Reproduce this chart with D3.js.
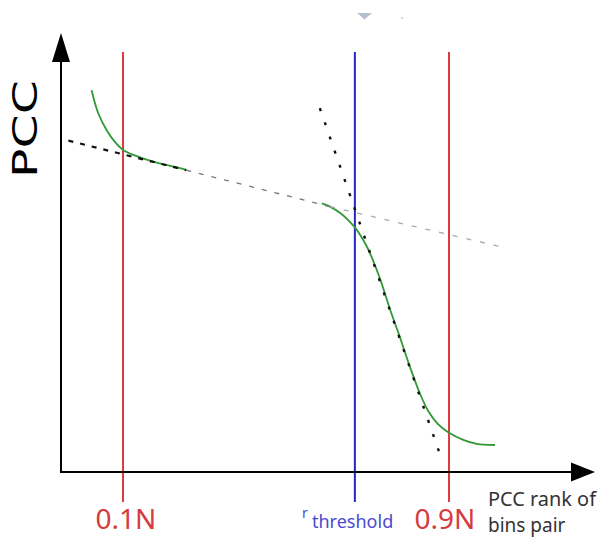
<!DOCTYPE html>
<html>
<head>
<meta charset="utf-8">
<script src="https://cdn.jsdelivr.net/npm/d3@7"></script>
<style>
  html, body { margin: 0; padding: 0; background: #fff; }
  svg { display: block; }
</style>
</head>
<body>
<svg id="chart" width="602" height="539"></svg>
<script>
// Rank position as a fraction of N, PCC as a relative value (0..1)
const markerRanks = [0.1, 0.9];          // 0.1N and 0.9N cut-offs
const markerLabels = ["0.1N", "0.9N"];
const thresholdRank = 0.669;             // r_threshold position

// Sorted PCC curve, drawn in two visible stretches
const curveHead = [
  [0.023, 0.952], [0.039, 0.895], [0.060, 0.852], [0.080, 0.823],
  [0.101, 0.802], [0.142, 0.784], [0.183, 0.771], [0.240, 0.757],
  [0.255, 0.753]
];
const curveTail = [
  [0.588, 0.669], [0.608, 0.661], [0.633, 0.645], [0.652, 0.628],
  [0.669, 0.609], [0.684, 0.587], [0.699, 0.560], [0.713, 0.528],
  [0.731, 0.480], [0.755, 0.405], [0.780, 0.333], [0.804, 0.261],
  [0.829, 0.193], [0.849, 0.150], [0.873, 0.117], [0.898, 0.097],
  [0.935, 0.078], [0.968, 0.068], [1.013, 0.065]
];

// Linear fit through the slowly decaying middle part (three shading stretches)
const flatFitNear = [[-0.034, 0.826], [0.255, 0.752]];
const flatFitMid  = [[0.255, 0.752], [0.608, 0.661]];
const flatFitFar  = [[0.608, 0.661], [1.042, 0.557]];
// Linear fit through the steep drop
const steepFit = [[0.583, 0.907], [0.876, 0.047]];

const svg = d3.select("#chart");

const x = d3.scaleLinear().domain([0, 1]).range([82.25, 489.75]);
const y = d3.scaleLinear().domain([0, 1]).range([471, 71]);

const origin = { x: 61, y: 472 };
const line = d3.line().x(d => x(d[0])).y(d => y(d[1]));
const smooth = d3.line().x(d => x(d[0])).y(d => y(d[1])).curve(d3.curveCatmullRom.alpha(0.5));

// Small marks at the top edge
svg.append("path")
  .attr("d", "M357,13 L372,13 L364.5,19.5 Z")
  .attr("fill", "#b4bfca");
svg.append("circle").attr("cx", 402).attr("cy", 18).attr("r", 0.8).attr("fill", "#999");

// Vertical reference lines
const lineTop = 52, lineBottom = 502;
markerRanks.forEach(r => {
  svg.append("line")
    .attr("x1", x(r)).attr("x2", x(r))
    .attr("y1", lineTop).attr("y2", lineBottom)
    .attr("stroke", "#dc3b3f").attr("stroke-width", 2);
});
svg.append("line")
  .attr("x1", x(thresholdRank)).attr("x2", x(thresholdRank))
  .attr("y1", lineTop).attr("y2", lineBottom)
  .attr("stroke", "#2626c4").attr("stroke-width", 2);

// Sorted PCC curve
[curveHead, curveTail].forEach(seg => {
  svg.append("path")
    .attr("d", smooth(seg))
    .attr("fill", "none")
    .attr("stroke", "#2f9a34")
    .attr("stroke-width", 1.8);
});

// Fit lines
svg.append("path").attr("d", line(flatFitNear))
  .attr("fill", "none").attr("stroke", "#111").attr("stroke-width", 2.2)
  .attr("stroke-dasharray", "5,7");
svg.append("path").attr("d", line(flatFitMid))
  .attr("fill", "none").attr("stroke", "#777").attr("stroke-width", 1.3)
  .attr("stroke-dasharray", "5,8");
svg.append("path").attr("d", line(flatFitFar))
  .attr("fill", "none").attr("stroke", "#aaa").attr("stroke-width", 1.3)
  .attr("stroke-dasharray", "5,9");
svg.append("path").attr("d", line(steepFit))
  .attr("fill", "none").attr("stroke", "#111").attr("stroke-width", 2.4)
  .attr("stroke-dasharray", "3,12");

// Axes with arrow heads
svg.append("line")
  .attr("x1", origin.x).attr("y1", origin.y).attr("x2", origin.x).attr("y2", 45)
  .attr("stroke", "#000").attr("stroke-width", 2);
svg.append("path")
  .attr("d", `M${origin.x},33 L${origin.x - 9},62 L${origin.x + 9},62 Z`)
  .attr("fill", "#000");
svg.append("line")
  .attr("x1", origin.x - 1).attr("y1", origin.y).attr("x2", 585).attr("y2", origin.y)
  .attr("stroke", "#000").attr("stroke-width", 2);
svg.append("path")
  .attr("d", `M595,${origin.y} L571,${origin.y - 9.5} L571,${origin.y + 9.5} Z`)
  .attr("fill", "#000");

// Axis titles
svg.append("text")
  .attr("transform", "translate(37,129) rotate(-90)")
  .attr("text-anchor", "middle")
  .attr("font-family", "'DejaVu Sans', sans-serif")
  .attr("font-size", 33)
  .attr("textLength", 98)
  .attr("lengthAdjust", "spacingAndGlyphs")
  .attr("fill", "#000")
  .text("PCC");

const xTitleFont = { family: "'Noto Sans', sans-serif", size: 19, color: "#333" };
[["PCC rank of", 506, 108], ["bins pair", 532, null]].forEach(([t, yy, len]) => {
  const el = svg.append("text")
    .attr("x", 488).attr("y", yy)
    .attr("font-family", xTitleFont.family)
    .attr("font-size", xTitleFont.size)
    .attr("fill", xTitleFont.color)
    .text(t);
  if (len) el.attr("textLength", len).attr("lengthAdjust", "spacingAndGlyphs");
});

// Marker labels
markerRanks.forEach((r, i) => {
  svg.append("text")
    .attr("x", x(r) + (i === 0 ? 3 : -4)).attr("y", 529)
    .attr("text-anchor", "middle")
    .attr("font-family", "'Noto Sans', sans-serif")
    .attr("font-size", 28)
    .attr("fill", "#d63a3e")
    .text(markerLabels[i]);
});

const thr = svg.append("text")
  .attr("font-family", "'Noto Sans', sans-serif")
  .attr("fill", "#4a4ad0");
thr.append("tspan").attr("x", 302).attr("y", 518).attr("font-size", 14).text("r");
thr.append("tspan").attr("x", 312).attr("y", 528).attr("font-size", 18).text("threshold");
</script>
</body>
</html>
